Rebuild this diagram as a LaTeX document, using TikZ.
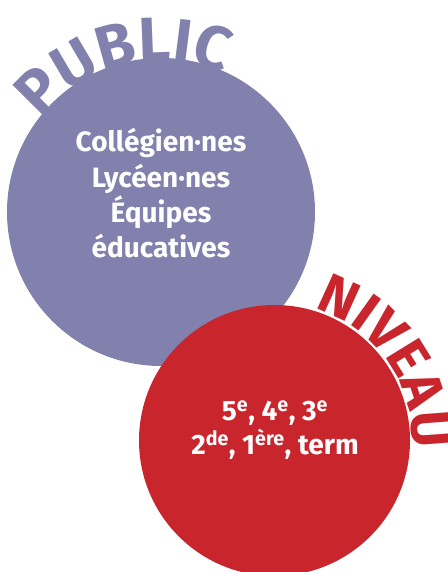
\documentclass[tikz,border=0pt]{standalone}
\usepackage{fontspec}
\setmainfont{Fira Sans}
\usetikzlibrary{decorations.text}
\definecolor{pub}{HTML}{8280AD}
\definecolor{niv}{HTML}{C9252D}
\tikzset{
  disc/.style={circle, inner sep=0pt, draw=none},
  inner/.style={anchor=base, text=white, font=\bfseries\fontsize{28}{34}\selectfont, inner sep=0pt},
}
\begin{document}
\begin{tikzpicture}[x=1pt,y=1pt]
\useasboundingbox (0,0) rectangle (447,572);
\coordinate (pc) at (161,360);
\coordinate (rc) at (274.5,131.5);
% curved titles
\path[decorate, decoration={text along path, text align=center,
  text={|\fontsize{62}{62}\bfseries\color{pub}|PUBLIC}}]
  ([shift={(159:151)}]pc) arc[start angle=159, end angle=49, radius=151];
\path[decorate, decoration={text along path, text align=center,
  text={|\fontsize{56}{56}\bfseries\color{niv}|NIVEAU}}]
  ([shift={(90:138)}]rc) arc[start angle=90, end angle=-20, radius=138];
% circles
\node[disc, fill=pub, minimum size=308pt] (pub) at (pc) {};
\node[disc, fill=niv, minimum size=271pt] (niv) at (rc) {};
% texts
\node[inner] (p1) at (161,420) {Collégien·nes};
\node[inner] (p2) at (161,384) {Lycéen·nes};
\node[inner] (p3) at (161,349) {Équipes};
\node[inner] (p4) at (161,314) {éducatives};
\node[inner] (r1) at (275,151) {5\textsuperscript{e}, 4\textsuperscript{e}, 3\textsuperscript{e}};
\node[inner] (r2) at (275,117) {2\textsuperscript{de}, 1\textsuperscript{ère}, term};
\end{tikzpicture}
\end{document}
